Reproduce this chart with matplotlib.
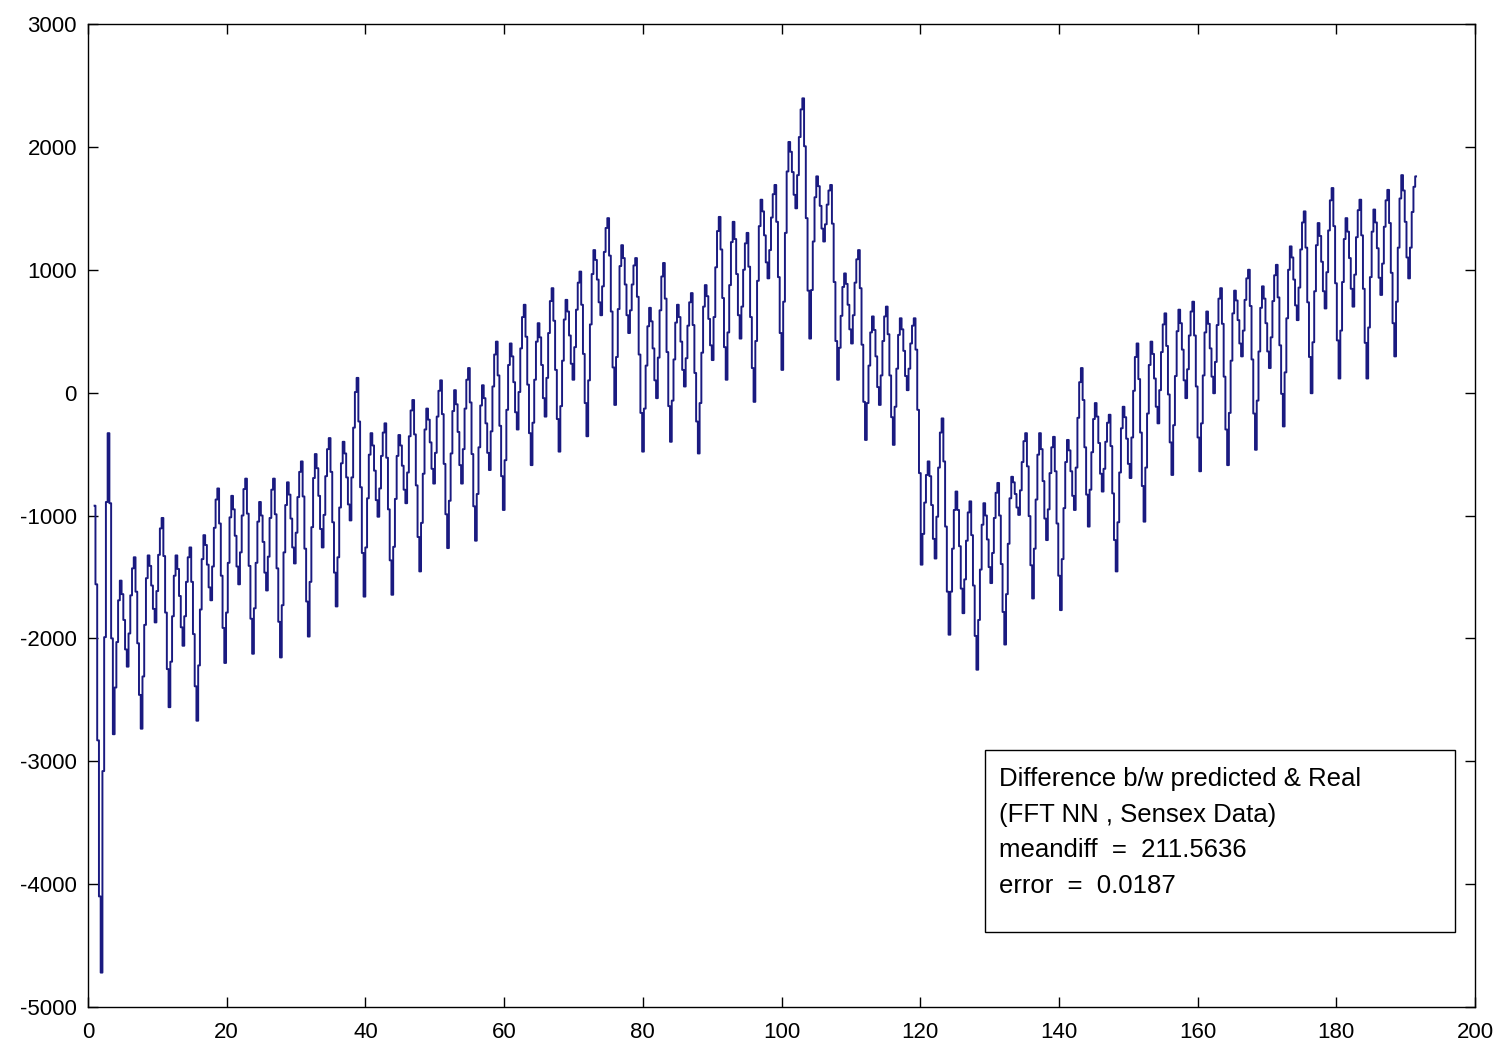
import matplotlib.pyplot as plt
import numpy as np
from matplotlib.patches import Rectangle

plt.rcParams['font.family'] = ['Liberation Sans', 'DejaVu Sans']
plt.rcParams['axes.unicode_minus'] = False

# difference between predicted and real values
# first a short irregular start, then one row per ~4-unit cycle
diff_vals = [
    -920, -1560, -2830, -4100, -4720, -3080, -1990, -890, -330, -900, -2000,
    -2780, -2400, -2030, -1690, -1530, -1640, -1850, -2090, -2230, -1960, -1650, -1430, -1340, -1620, -2040, -2460,
    -2735, -2310, -1890, -1510, -1325, -1410, -1570, -1760, -1870, -1615, -1320, -1105, -1020, -1330, -1790, -2250,
    -2560, -2190, -1820, -1490, -1325, -1435, -1655, -1910, -2060, -1820, -1540, -1340, -1260, -1540, -1965, -2390,
    -2670, -2220, -1765, -1355, -1160, -1240, -1400, -1585, -1690, -1415, -1100, -870, -780, -1065, -1490, -1915,
    -2200, -1790, -1385, -1015, -840, -950, -1165, -1415, -1560, -1300, -1000, -785, -700, -985, -1410, -1840,
    -2125, -1755, -1385, -1050, -890, -1000, -1215, -1465, -1610, -1335, -1020, -790, -700, -990, -1430, -1865,
    -2155, -1730, -1300, -915, -730, -830, -1025, -1260, -1390, -1140, -850, -645, -560, -845, -1270, -1700,
    -1985, -1540, -1095, -695, -500, -615, -840, -1110, -1260, -995, -680, -460, -370, -645, -1055, -1465,
    -1740, -1340, -935, -575, -400, -495, -690, -910, -1040, -690, -285, 5, 120, -235, -770, -1305,
    -1660, -1260, -860, -505, -330, -430, -635, -875, -1010, -780, -515, -325, -250, -530, -950, -1365,
    -1645, -1255, -865, -515, -345, -430, -595, -790, -900, -650, -355, -145, -60, -340, -755, -1175,
    -1455, -1060, -660, -300, -130, -220, -405, -620, -740, -490, -195, 15, 100, -175, -580, -990,
    -1265, -880, -495, -150, 20, -95, -320, -590, -740, -460, -130, 105, 200, -80, -500, -925,
    -1205, -825, -445, -105, 60, -45, -250, -490, -630, -315, 50, 310, 415, 140, -270, -680,
    -955, -550, -140, 225, 400, 295, 85, -160, -300, 5, 360, 615, 715, 455, 65, -330,
    -590, -245, 105, 415, 565, 450, 225, -45, -195, 120, 485, 745, 850, 585, 185, -215,
    -480, -110, 260, 595, 755, 660, 465, 235, 105, 370, 675, 895, 985, 715, 315, -85,
    -355, 100, 555, 965, 1160, 1080, 920, 735, 630, 865, 1145, 1340, 1420, 1115, 660, 205,
    -100, 290, 680, 1030, 1200, 1095, 880, 630, 485, 670, 880, 1035, 1095, 780, 310, -165,
    -480, -130, 220, 540, 690, 580, 360, 100, -45, 285, 670, 945, 1055, 765, 330, -110,
    -400, -65, 270, 570, 715, 615, 415, 185, 50, 280, 545, 735, 810, 550, 160, -235,
    -495, -85, 325, 700, 875, 785, 600, 385, 265, 615, 1020, 1315, 1430, 1165, 770, 370,
    105, 490, 875, 1225, 1390, 1250, 965, 630, 440, 700, 1000, 1215, 1300, 1025, 615, 200,
    -75, 420, 910, 1355, 1570, 1475, 1280, 1060, 930, 1160, 1425, 1615, 1690, 1390, 940, 485,
    185, 740, 1300, 1800, 2040, 1960, 1795, 1610, 1500, 1770, 2080, 2305, 2395, 2005, 1420, 830,
    440, 835, 1230, 1590, 1760, 1680, 1520, 1335, 1230, 1370, 1530, 1645, 1690, 1375, 900, 420,
    105, 365, 625, 860, 970, 885, 715, 515, 400, 630, 895, 1085, 1160, 850, 390, -75,
    -385, -85, 220, 490, 620, 510, 295, 45, -100, 140, 420, 620, 700, 475, 140, -200,
    -425, -115, 195, 470, 605, 515, 340, 135, 20, 195, 400, 545, 605, 350, -140, -655,
    -1400, -1150, -895, -670, -560, -680, -915, -1190, -1350, -1010, -610, -325, -210, -560, -1090, -1620,
    -1970, -1620, -1270, -955, -805, -955, -1250, -1595, -1795, -1520, -1205, -975, -885, -1160, -1570, -1980,
    -2255, -1850, -1440, -1075, -900, -1000, -1195, -1420, -1550, -1305, -1020, -815, -735, -1000, -1395, -1785,
    -2050, -1640, -1230, -860, -685, -730, -825, -935, -995, -795, -565, -395, -330, -600, -1005, -1405,
    -1675, -1270, -870, -505, -330, -460, -720, -1025, -1200, -950, -655, -445, -360, -640, -1065, -1490,
    -1770, -1355, -940, -565, -385, -470, -640, -840, -955, -610, -205, 85, 200, -60, -445, -830,
    -1090, -790, -485, -215, -85, -195, -410, -660, -805, -620, -400, -245, -180, -435, -820, -1200,
    -1455, -1055, -650, -290, -115, -200, -375, -580, -695, -365, 15, 290, 400, 110, -325, -760,
    -1050, -610, -170, 225, 415, 315, 115, -115, -250, 20, 330, 555, 645, 380, -15, -405,
    -670, -265, 135, 500, 675, 565, 350, 100, -45, 190, 465, 660, 740, 465, 50, -365,
    -640, -250, 140, 490, 660, 560, 360, 130, -5, 250, 550, 765, 850, 560, 130, -300,
    -590, -165, 260, 645, 830, 750, 590, 400, 295, 505, 755, 930, 1000, 705, 270, -170,
    -465, -65, 335, 690, 865, 765, 565, 335, 200, 450, 745, 955, 1040, 775, 385, -10,
    -275, 165, 605, 1000, 1190, 1100, 920, 710, 590, 855, 1165, 1385, 1475, 1180, 735, 290,
    -5, 410, 825, 1200, 1380, 1275, 1065, 825, 685, 980, 1320, 1565, 1665, 1355, 890, 425,
    115, 505, 900, 1250, 1420, 1310, 1095, 845, 700, 960, 1265, 1485, 1570, 1280, 845, 405,
    115, 530, 940, 1310, 1490, 1385, 1175, 935, 795, 1050, 1350, 1565, 1650, 1380, 975, 565,
    295, 740, 1180, 1580, 1770, 1645, 1390, 1100, 930, 1180, 1470, 1675, 1760,
]
x_first, x_last = 0.95, 191.5

xticks = [0, 20, 40, 60, 80, 100, 120, 140, 160, 180, 200]
yticks = [-5000, -4000, -3000, -2000, -1000, 0, 1000, 2000, 3000]

note_lines = ['Difference b/w predicted & Real',
              '(FFT NN , Sensex Data)',
              'meandiff  =  211.5636',
              'error  =  0.0187']

x = np.linspace(x_first, x_last, len(diff_vals))

fig = plt.figure(figsize=(15.09, 10.53), dpi=100)
ax = fig.add_axes([88/1509, 1-1007/1053, (1475-88)/1509, (1007-24)/1053])

ax.plot(x, diff_vals, color='#1a1a80', lw=1.4, drawstyle='steps-mid')

ax.set_xlim(0, 200)
ax.set_ylim(-5000, 3000)
ax.set_xticks(xticks)
ax.set_yticks(yticks)
ax.tick_params(direction='in', length=7, width=1, top=True, right=True,
               labelsize=16)
ax.tick_params(axis='y', pad=8)
ax.tick_params(axis='x', pad=11)
for s in ax.spines.values():
    s.set_linewidth(1)

# note box
ax.add_patch(Rectangle((129.3, -4388), 67.8, 1481, fill=False,
                       edgecolor='black', lw=1, zorder=5))
ax.text(131.4, -3050, '\n'.join(note_lines), fontsize=18.5, va='top', ha='left',
        linespacing=1.6, zorder=6)

plt.savefig('out.png', dpi=100)
